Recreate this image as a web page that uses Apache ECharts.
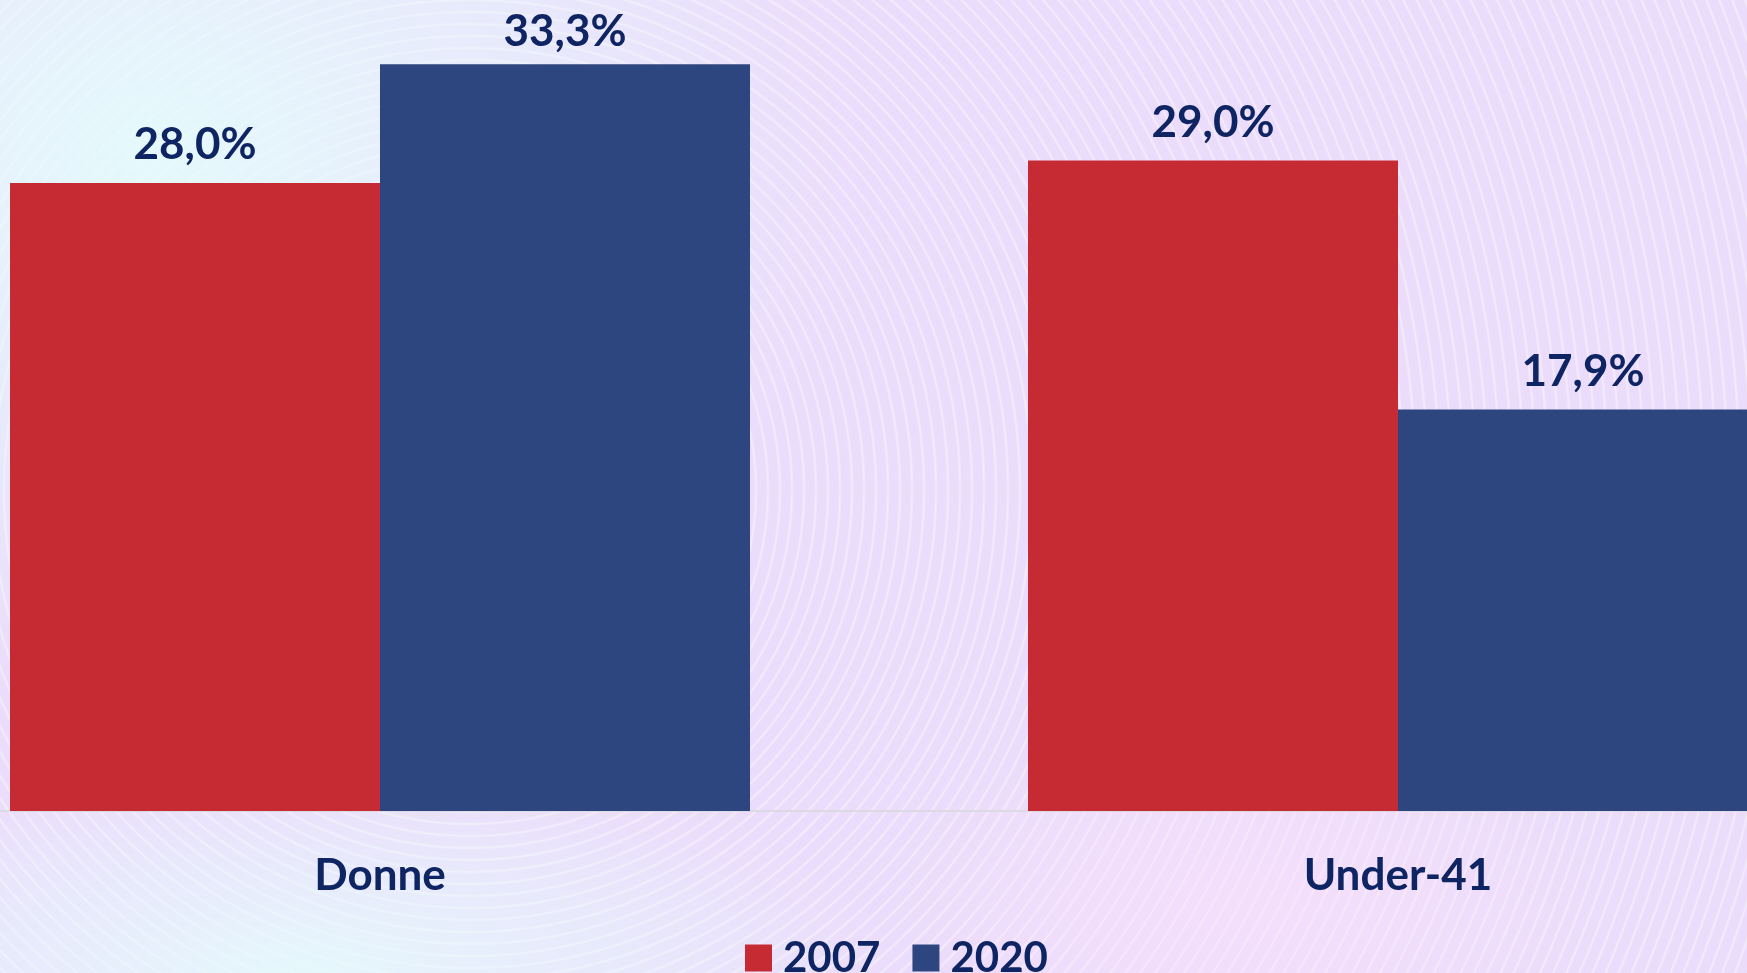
<!DOCTYPE html>
<html>
<head>
<meta charset="utf-8">
<script src="https://cdn.jsdelivr.net/npm/echarts@6/dist/echarts.min.js"></script>
<style>
  html, body { margin: 0; padding: 0; }
  body {
    width: 1747px; height: 973px; overflow: hidden; position: relative;
    background:
      radial-gradient(ellipse 1000px 760px at 150px 150px, rgba(228, 252, 252, 0.9), rgba(228, 252, 252, 0) 72%),
      radial-gradient(ellipse 800px 280px at 300px 973px, rgba(228, 252, 252, 0.85), rgba(228, 252, 252, 0) 75%),
      radial-gradient(ellipse 500px 250px at 1250px 900px, rgba(250, 225, 250, 0.6), rgba(250, 225, 250, 0) 75%),
      repeating-radial-gradient(circle at 470px 490px, rgba(255,255,255,0) 0px, rgba(255,255,255,0) 8px, rgba(255,255,255,0.45) 10px, rgba(255,255,255,0) 12px),
      #ebdcfb;
  }
  /* chart is wider than the window: the reference crops the outer category bands */
  #chart { position: absolute; left: -129px; top: 0; width: 2036px; height: 973px; }
</style>
</head>
<body>
<div id="chart"></div>
<script>
(function () {
  const categories = ["Donne", "Under-41"];
  const years = ["2007", "2020"];
  const values2007 = [28.0, 29.0];
  const values2020 = [33.3, 17.9];

  const NAVY = "#0f2462";
  const COLORS = ["#c62b33", "#2e4680"];
  const FONT = "Lato, 'Noto Sans', sans-serif";
  const Y_MAX = 35;

  const fmt = (v) => v.toFixed(1).replace(".", ",") + "%";

  const chart = echarts.init(document.getElementById("chart"), null, { renderer: "canvas" });

  function barSeries(name, values, color) {
    // labels near the top edge sit closer to their bar
    const data = values.map((v) =>
      v / Y_MAX > 0.93 ? { value: v, label: { distance: 10 } } : v
    );
    return {
      name,
      type: "bar",
      data,
      barWidth: 370,
      barGap: "0%",
      itemStyle: { color },
      label: {
        show: true,
        position: "top",
        distance: 16,
        formatter: (p) => fmt(p.value),
        color: NAVY,
        fontFamily: FONT,
        fontWeight: "bold",
        fontSize: 44,
      },
    };
  }

  chart.setOption({
    backgroundColor: "transparent",
    animation: false,
    grid: { left: 0, right: 0, top: 26, bottom: 162, containLabel: false },
    legend: {
      data: years,
      left: 869,
      top: 932,
      itemWidth: 27,
      itemHeight: 27,
      itemGap: 32,
      icon: "rect",
      textStyle: {
        color: NAVY,
        fontFamily: FONT,
        fontWeight: "bold",
        fontSize: 42,
        padding: [0, 0, 0, 6],
      },
    },
    xAxis: {
      type: "category",
      data: categories,
      axisTick: { show: false },
      axisLine: { lineStyle: { color: "#dcd8e4", width: 2 } },
      axisLabel: {
        margin: 43,
        color: NAVY,
        fontFamily: FONT,
        fontWeight: "bold",
        fontSize: 44,
      },
    },
    yAxis: {
      type: "value",
      min: 0,
      max: Y_MAX,
      show: false,
      splitLine: { show: false },
    },
    series: [
      barSeries(years[0], values2007, COLORS[0]),
      barSeries(years[1], values2020, COLORS[1]),
    ],
  });
})();
</script>
</body>
</html>
